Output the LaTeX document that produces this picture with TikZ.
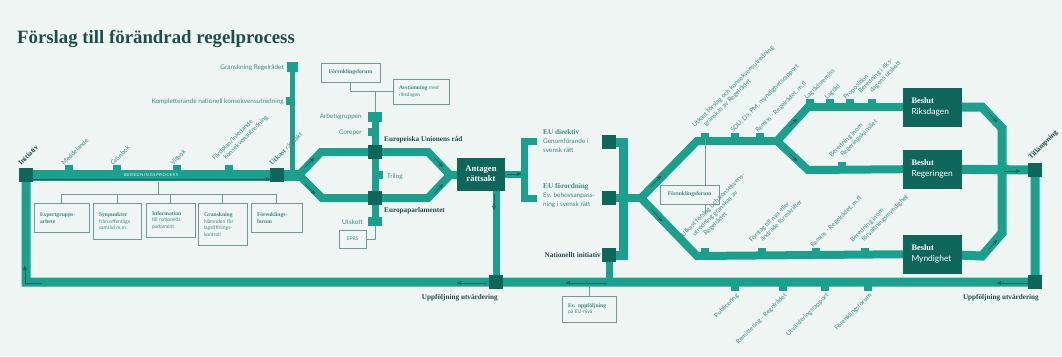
\documentclass[tikz,border=0pt]{standalone}
\usepackage{fontspec}
\setmainfont{Liberation Serif}
\setsansfont{Lato}
\usepackage{tikz}
\usetikzlibrary{arrows,positioning}
\pgfdeclarelayer{back}
\pgfsetlayers{back,main}
\definecolor{panel}{HTML}{EFF5F3}
\definecolor{railgreen}{HTML}{1BA08D}
\definecolor{depot}{HTML}{0F665B}
\definecolor{ink}{HTML}{1D4E49}
\definecolor{inklight}{HTML}{3C8981}
\definecolor{wire}{HTML}{6F9B96}
\newcommand{\stopfont}{\sffamily\fontsize{6.4}{7.5}\selectfont}
\newcommand{\namefont}{\rmfamily\bfseries\fontsize{7.2}{8.5}\selectfont}
\newcommand{\boxfont}{\sffamily\fontsize{5}{6.6}\selectfont}
\newcommand{\boxhead}[1]{{\rmfamily\bfseries\fontsize{5.6}{6.6}\selectfont #1}}
\newcommand{\indentline}{\hspace*{8.5pt}}
\tikzset{
  every picture/.style = {
    >=stealth',
    x = 1pt,
    y = -1pt
  }
  ,
  track/.style = {
    draw = railgreen,
    line width = 8pt,
    line join = miter
  }
  ,
  station/.style = {
    rectangle,
    fill = depot,
    minimum width = 14pt,
    minimum height = 14pt,
    inner sep = 0pt
  }
  ,
  halt/.style = {
    rectangle,
    fill = railgreen,
    inner sep = 0pt
  }
  ,
  stub/.style = {
    halt,
    minimum width = 8pt,
    minimum height = 5pt
  }
  ,
  decision/.style = {
    rectangle,
    fill = depot,
    text = white,
    minimum width = 59pt,
    minimum height = 39pt,
    text width = 41pt,
    align = left,
    inner sep = 0pt,
    font = \fontsize{8.4}{10.5}\selectfont
  }
  ,
  adopted/.style = {
    rectangle,
    fill = depot,
    text = white,
    minimum width = 48pt,
    minimum height = 33pt,
    align = center,
    inner sep = 0pt,
    font = \rmfamily\bfseries\fontsize{8.6}{9.6}\selectfont
  }
  ,
  infobox/.style = {
    rectangle,
    draw = wire,
    line width = 0.9pt,
    fill = panel,
    text = inklight,
    font = \boxfont,
    align = left,
    inner xsep = 6pt,
    inner ysep = 4pt
  }
  , % thin links between boxes and lines
  link/.style = {
    draw = wire,
    line width = 0.8pt
  }
  , % direction marks on the lines
  flow/.style = {
    ->,
    draw = depot,
    line width = 0.6pt
  }
  , % labels of stops
  label-stop/.style = {
    rotate = 45,
    anchor = base west,
    inner sep = 0pt,
    text = inklight,
    font = \stopfont,
    align = left
  }
  ,
  label-side/.style = {
    inner sep = 0pt,
    text = inklight,
    font = \stopfont
  }
  , % labels of stations
  label-name/.style = {
    inner sep = 0pt,
    text = ink,
    font = \namefont
  }
}

\begin{document}
\begin{tikzpicture}
  \useasboundingbox (0,0) rectangle (1062,356);
  \node[anchor=base west, inner sep=0pt, text=ink, font=\rmfamily\bfseries\fontsize{18.8}{22}\selectfont] at (17,43) (title) {Förslag till förändrad regelprocess};

  % stations
  \node[station] at (26,175) (initiativ) {};
  \node[station] at (277,175) (utkast) {};
  \node[halt, minimum width=11pt, minimum height=10pt] at (292,67) (granskning) {};
  \node[halt, minimum width=5pt, minimum height=8pt] at (288,101) (komplettering) {};
  \node[halt, minimum width=14pt, minimum height=10pt] at (375,117) (arbetsgruppen) {};
  \node[halt, minimum width=5pt, minimum height=8pt] at (370,132) (coreper) {};
  \node[halt, minimum width=5pt, minimum height=8pt] at (380,175) (trilog) {};
  \node[halt, minimum width=14pt, minimum height=9pt] at (375,221) (utskott) {};
  \node[station] at (375,152) (eurad) {};
  \node[station] at (375,198) (europarl) {};
  \node[adopted] at (481,174) (antagen) {Antagen\\rättsakt};
  \node[station] at (609,142) (direktiv) {};
  \node[station] at (609,198) (forordning) {};
  \node[station] at (609,255) (nationellt) {};
  \node[station] at (496,282) (uppfoljning) {};
  \node[decision] at (932,107) (riksdagen) {{\rmfamily\bfseries Beslut}\\{\sffamily Riksdagen}};
  \node[decision] at (932,169) (regeringen) {{\rmfamily\bfseries Beslut}\\{\sffamily Regeringen}};
  \node[decision] at (932,254) (myndighet) {{\rmfamily\bfseries Beslut}\\{\sffamily Myndighet}};
  \node[station] at (1035,170) (tillampning) {};
  \node[station] at (1035,282) (uppfoljningR) {};

  \coordinate (hexW) at (299,175);
  \coordinate (hexE) at (450,175);
  \coordinate (fork) at (524,174);
  \coordinate (dirTip) at (537,141);
  \coordinate (forTip) at (537,198);
  \coordinate (spine) at (623,198);
  \coordinate (kApex) at (641,198);
  \coordinate (kUp) at (697,141);
  \coordinate (kLow) at (697,256);
  \coordinate (split) at (777,141);
  \coordinate (rUp) at (808,107);
  \coordinate (rLow) at (808,170);

  \begin{pgfonlayer}{back}
    \fill[panel] (0,0) rectangle (1062,356);
    % main line and return line
    \draw[track, line width=11pt] (initiativ.center) -- (utkast.center) -- (hexW);
    \draw[track, line width=9pt] (regeringen.center) -- (tillampning.center) -- (uppfoljningR.center) -- (uppfoljning.center) -- (initiativ.center |- uppfoljning.center) -- (initiativ.center);
    \draw[track, line width=5pt] (granskning.center) -- (granskning.center |- utkast.center);
    % EU
    \draw[track] (hexW) -- (321,152) -- (eurad.center) -- (428,152) -- (hexE) -- (428,198) -- (europarl.center) -- (322,198) -- cycle;
    \draw[track] (hexE) -- (antagen.center);
    \draw[track, line width=7pt] (arbetsgruppen.center) -- (utskott.center);
    \draw[track, line width=7pt] (antagen.center) -- (fork);
    \draw[track, line width=7pt] (dirTip) -- (dirTip -| fork) -- (forTip -| fork) -- (forTip);
    \draw[track, line width=7pt] (uppfoljning.center) -- (uppfoljning.center |- antagen.center);
    % Sweden
    \draw[track, line width=9pt] (direktiv.center) -| (spine) |- (nationellt.center);
    \draw[track, line width=7pt] (nationellt.center) -- (nationellt.center |- uppfoljning.center);
    \draw[track] (forordning.center) -- (kApex);
    \draw[track] (split) -- (kUp) -- (kApex) -- (kLow) -- (myndighet.center);
    \draw[track] (riksdagen.center) -- (rUp) -- (split) -- (rLow) -- (regeringen.center);
    \draw[track, line width=9pt] (riksdagen.center) -- (982,107) -- (1002,128) -- (1002,233) -- (982,256) -- (myndighet.center);
  \end{pgfonlayer}

  % stops
  \node[stub, anchor=south] at (69,170.5) (meddelande) {};
  \node[stub, anchor=south] at (117,170.5) (gronbok) {};
  \node[stub, anchor=south] at (177,170.5) (vitbok) {};
  \node[stub, anchor=south] at (229,170.5) (fardplan) {};
  \node[stub, anchor=south] at (705,138) (kUtkast) {};
  \node[stub, anchor=south] at (735,138) (kSou) {};
  \node[stub, anchor=south] at (760,138) (kRemiss) {};
  \node[stub, anchor=south] at (810,104) (lagradsremiss) {};
  \node[stub, anchor=south] at (830,104) (lagrad) {};
  \node[stub, anchor=south] at (850,104) (proposition) {};
  \node[stub, anchor=south] at (872,104) (beredningRd) {};
  \node[stub, anchor=south] at (842,167) (beredningRk) {};
  \node[stub, anchor=south] at (705,253) (mUtkast) {};
  \node[stub, anchor=south] at (762,253) (mForslag) {};
  \node[stub, anchor=south] at (816,253) (mRemiss) {};
  \node[stub, anchor=south] at (865,253) (mBeredning) {};
  \node[stub, anchor=north] at (735,286) (publicering) {};
  \node[stub, anchor=north] at (783,286) (remittering) {};
  \node[stub, anchor=north] at (825,286) (utvardering) {};
  \node[stub, anchor=north] at (868,286) (bForenkling) {};

  % boxes
  \node[infobox, anchor=north, text width=43pt, minimum height=29pt] at (61.5,203) (expert) {\boxhead{Expertgrupps-\\arbete}};
  \node[infobox, anchor=north, text width=36pt, minimum height=36pt] at (117,203) (synpunkter) {\boxhead{Synpunkter}\\från offentliga\\samråd m.m.};
  \node[infobox, anchor=north, text width=37pt, minimum height=34pt] at (170.5,203) (information) {\boxhead{Information}\\till nationella\\parlament};
  \node[infobox, anchor=north, text width=37pt, minimum height=42pt] at (222.5,203) (granskbox) {\boxhead{Granskning}\\Nämnden för\\lagstiftnings-\\kontroll};
  \node[infobox, anchor=north, text width=39pt, minimum height=29pt] at (276.5,203) (forenkling) {\boxhead{Förenklings-\\forum}};
  \node[infobox, minimum width=59pt, minimum height=19pt, align=center] at (350.5,72.5) (forum) {\boxhead{Förenklingsforum}};
  \node[infobox, text width=44pt, minimum height=25pt] at (421,91.5) (avstamning) {\boxhead{Avstämning} med\\riksdagen};
  \node[infobox, minimum width=27pt, minimum height=18pt, align=center] at (352.5,239) (eprs) {EPRS};
  \node[infobox, text width=42pt, minimum height=26pt] at (589,309) (euuppfoljning) {\boxhead{Ev. uppföljning}\\på EU-nivå};
  \node[infobox, minimum width=59pt, minimum height=19pt, align=center] at (689.5,194.5) (kforum) {\boxhead{Förenklingsforum}};

  % links
  \coordinate (bus) at (158,194);
  \coordinate (returnline) at (589,286);
  \coordinate (kforumEnd) at (705,214);
  \draw[link] (bus) -- (bus |- initiativ.south);
  \foreach \b in {expert, synpunkter, information, granskbox, forenkling}
    \draw[link] (bus) -| (\b.north);
  \draw[link] (forum.south) |- (avstamning.west);
  \draw[link] (arbetsgruppen.north) -- (arbetsgruppen.north |- avstamning.west);
  \draw[link] (eprs.east) -| (utskott.south);
  \draw[link] (euuppfoljning.north) -- (returnline);
  \draw[link] (kUtkast.south) -- (kUtkast.south |- kforum.north);
  \draw[link] (kforum.south -| kUtkast.south) -- (kforumEnd);

  % direction marks
  \draw[flow] ([yshift=-4pt]initiativ.east) -- ([yshift=-4pt]utkast.west);
  \draw[flow] (42,283) -- (25,283) -- (25,266);
  \draw[flow] (305,167) -- (314,158);
  \draw[flow] (305,184) -- (315,194);
  \draw[flow] (434,157) -- (443,167);
  \draw[flow] (434,194) -- (443,184);
  \draw[flow] (507,174) -- (521,174);
  \draw[flow] (494,194) -- (494,210);
  \draw[flow] (650,187) -- (661,176);
  \draw[flow] (651,209) -- (662,221);
  \draw[flow] (789,127) -- (797,119);
  \draw[flow] (789,153) -- (797,161);
  \draw[flow] (988,112) -- (997,122);
  \draw[flow] (988,250) -- (997,240);
  \draw[flow] (1004,171) -- (1020,171);
  \draw[flow] (1028,283) -- (997,283);
  \draw[flow] (607,283) -- (566,283);
  \draw[flow] (487,283) -- (457,283);

  % labels of stops
  \node[label-stop, text=ink, font=\namefont] at (21,166) (l-initiativ) {Initiativ};
  \node[label-stop] at (64,166) (l-meddelande) {Meddelande};
  \node[label-stop] at (113,166) (l-gronbok) {Grönbok};
  \node[label-stop] at (173,166) (l-vitbok) {Vitbok};
  \node[label-stop] at (220,166) (l-fardplan) {Färdplan/Inledande\\\indentline konsekvensutredning};
  \node[label-stop] at (272,166) (l-utkast) {{\namefont Utkast} rättsakt};
  \node[label-stop] at (700,133) (l-kutkast) {Utkast förslag och konsekvensutredning\\\indentline granskas av Regelrådet};
  \node[label-stop] at (733,133) (l-ksou) {SOU, Ds, PM, myndighetsrapport};
  \node[label-stop] at (758,133) (l-kremiss) {Remiss - Regelrådet, m.fl};
  \node[label-stop] at (807,100) (l-lagradsremiss) {Lagrådsremiss};
  \node[label-stop] at (827,100) (l-lagrad) {Lagråd};
  \node[label-stop] at (846,100) (l-proposition) {Proposition};
  \node[label-stop] at (866,99) (l-beredningrd) {Beredning i riks-\\\indentline dagens utskott};
  \node[label-stop] at (837,163) (l-beredningrk) {Beredning inom\\\indentline Regeringskansliet};
  \node[label-stop] at (694,248) (l-mutkast) {Utkast förslag och konsekvens-\\\indentline utredning granskas av\\\indentline\indentline Regelrådet};
  \node[label-stop] at (757,248) (l-mforslag) {Förslag till nya eller\\\indentline ändrade föreskrifter};
  \node[label-stop] at (813,248) (l-mremiss) {Remiss - Regelrådet, m.fl};
  \node[label-stop] at (858,248) (l-mberedning) {Beredning inom\\\indentline förvaltningsmyndighet};
  \node[label-stop, anchor=base east] at (739,296) (l-publicering) {Publicering};
  \node[label-stop, anchor=base east] at (787,296) (l-remittering) {Remittering - Regelrådet};
  \node[label-stop, anchor=base east] at (829,296) (l-utvardering) {Utvärderingsrapport};
  \node[label-stop, anchor=base east] at (872,296) (l-forenkling) {Förenklingsforum};
  \node[label-stop, text=ink, font=\namefont] at (1031,160) (l-tillampning) {Tillämpning};

  % labels of the side lines
  \node[label-side, anchor=base east] at (284,69.5) (l-granskning) {Granskning Regelrådet};
  \node[label-side, anchor=base east] at (284,103) (l-komplettering) {Kompletterande nationell konsekvensutredning};
  \node[label-side, anchor=base east] at (362,118.5) (l-arbetsgruppen) {Arbetsgruppen};
  \node[label-side, anchor=base east] at (362,134.5) (l-coreper) {Coreper};
  \node[label-side, anchor=base west] at (387,178) (l-trilog) {Trilog};
  \node[label-side, anchor=base east] at (363,224) (l-utskott) {Utskott};
  \node[label-side, anchor=north west, align=left, font=\sffamily\fontsize{6.4}{9}\selectfont] at (543,129) (l-direktiv) {{\namefont EU direktiv}\\Genomförande i\\svensk rätt};
  \node[label-side, anchor=north west, align=left, font=\sffamily\fontsize{6.4}{9}\selectfont] at (543,183) (l-forordning) {{\namefont EU förordning}\\Ev. behovsanpass-\\ning i svensk rätt};

  % labels of stations
  \node[label-name, anchor=base west] at (384,141.5) (l-eurad) {Europeiska Unionens råd};
  \node[label-name, anchor=base west] at (384,212.5) (l-europarl) {Europaparlamentet};
  \node[label-name, anchor=base east] at (601,257) (l-nationellt) {Nationellt initiativ};
  \node[label-name, anchor=base east] at (498,299.5) (l-uppfoljning) {Uppföljning utvärdering};
  \node[label-name, anchor=base east] at (1039,299.5) (l-uppfoljningR) {Uppföljning utvärdering};
  \node[inner sep=0pt, text=white, font=\sffamily\fontsize{4}{5}\selectfont\addfontfeature{LetterSpace=18}] at (151,175.5) (beredning) {BEREDNINGSPROCESS};
\end{tikzpicture}
\end{document}
